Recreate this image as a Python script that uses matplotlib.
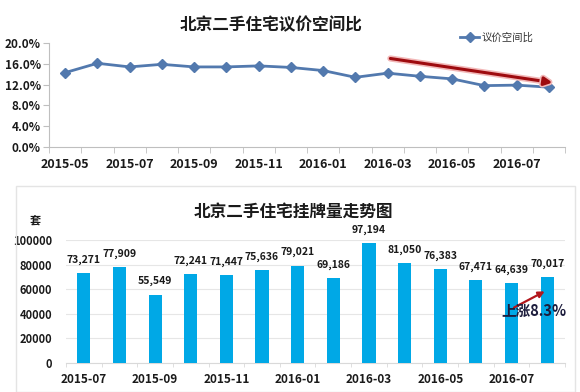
import numpy as np
import matplotlib.pyplot as plt
from matplotlib.patches import Rectangle
import matplotlib.patheffects as pe

plt.rcParams['font.family'] = ['Noto Sans CJK SC', 'DejaVu Sans']

# 议价空间比 (%)
months_top = ['2015-05', '2015-06', '2015-07', '2015-08', '2015-09', '2015-10',
              '2015-11', '2015-12', '2016-01', '2016-02', '2016-03', '2016-04',
              '2016-05', '2016-06', '2016-07', '2016-08']
ratio = [14.3, 16.1, 15.4, 15.9, 15.4, 15.4, 15.6, 15.3, 14.7, 13.4, 14.2,
         13.6, 13.1, 11.8, 11.9, 11.5]

# 挂牌量 (套)
months_bar = ['2015-07', '2015-08', '2015-09', '2015-10', '2015-11', '2015-12',
              '2016-01', '2016-02', '2016-03', '2016-04', '2016-05', '2016-06',
              '2016-07', '2016-08']
listings = [73271, 77909, 55549, 72241, 71447, 75636, 79021, 69186, 97194,
            81050, 76383, 67471, 64639, 70017]

W, H = 580, 392
fig = plt.figure(figsize=(W / 100, H / 100), dpi=100)
fig.patch.set_facecolor('white')

def box(l, t, r, b):
    return [l / W, 1 - b / H, (r - l) / W, (b - t) / H]

txt = '#1a1a1a'
axc = '#bfbfbf'

# ---------- top: line chart ----------
ax1 = fig.add_axes(box(49, 43, 565, 147))
x1 = np.arange(len(months_top))
line, = ax1.plot(x1, ratio, color='#5279ae', lw=2, marker='D', ms=5,
                 label='议价空间比', zorder=3)
ax1.set_xlim(-0.5, len(months_top) - 0.5)
ax1.set_ylim(0, 20)
ax1.set_yticks(np.arange(0, 20.1, 4))
ax1.set_yticklabels([f'{v:.1f}%' for v in np.arange(0, 20.1, 4)],
                    fontsize=8.5, fontweight='bold', color=txt)
ax1.set_xticks(x1[::2])
ax1.set_xticklabels(months_top[::2], fontsize=9, fontweight='bold', color=txt)
ax1.set_xticks(np.arange(-0.5, len(months_top), 1), minor=True)
ax1.tick_params(axis='x', which='major', length=0, pad=8)
ax1.tick_params(axis='x', which='minor', length=4, color=axc)
ax1.tick_params(axis='y', length=4, color=axc, pad=2)
for s in ['top', 'right']:
    ax1.spines[s].set_visible(False)
for s in ['left', 'bottom']:
    ax1.spines[s].set_color(axc)
ax1.set_facecolor('none')

fig.text(271 / W, 1 - 25 / H, '北京二手住宅议价空间比', ha='center', va='center',
         fontsize=12, fontweight='bold', color=txt)
fig.legend(handles=[line], loc='center left', bbox_to_anchor=(455 / W, 1 - 38 / H),
           frameon=False, fontsize=7.5, handlelength=1.8, handletextpad=0.2,
           borderpad=0, labelcolor='#333333')

# red trend arrow
ax1.annotate('', xy=(15.2, 12.3), xytext=(10.0, 17.1),
             arrowprops=dict(arrowstyle='-|>', color='#9e0b0f', lw=2.2,
                             mutation_scale=12,
                             path_effects=[pe.withStroke(linewidth=4.5, foreground='#f2b8b8')]),
             zorder=4)

# ---------- bottom: bar chart ----------
fig.patches.append(Rectangle((16 / W, 0), (575 - 16) / W, 1 - 186 / H,
                             transform=fig.transFigure, fill=False,
                             edgecolor='#e4e4e4', lw=1))

ax2 = fig.add_axes(box(66, 240, 565, 363))
x2 = np.arange(len(months_bar))
bars = ax2.bar(x2, listings, width=0.37, color='#00a8e6', zorder=3)
ax2.set_xlim(-0.5, len(months_bar) - 0.5)
ax2.set_ylim(0, 100000)
ax2.set_yticks(np.arange(0, 100001, 20000))
ax2.set_yticklabels([str(v) for v in range(0, 100001, 20000)],
                    fontsize=8, fontweight='bold', color=txt)
ax2.yaxis.grid(True, color='#e6e6e6', lw=0.8, zorder=0)
ax2.set_xticks(x2[::2])
ax2.set_xticklabels(months_bar[::2], fontsize=8.5, fontweight='bold', color=txt)
ax2.set_xticks(np.arange(-0.5, len(months_bar), 1), minor=True)
ax2.tick_params(axis='x', which='major', length=0, pad=7)
ax2.tick_params(axis='x', which='minor', length=3, color='#d9d9d9')
ax2.tick_params(axis='y', length=0, pad=10)
for s in ['top', 'right', 'left']:
    ax2.spines[s].set_visible(False)
ax2.spines['bottom'].set_color('#d9d9d9')
ax2.set_facecolor('none')

for xi, v in zip(x2, listings):
    ax2.annotate(f'{v:,}', (xi, v), xytext=(0, 6), textcoords='offset points',
                 ha='center', va='bottom', fontsize=7.5, fontweight='bold',
                 color=txt)

fig.text(293 / W, 1 - 212 / H, '北京二手住宅挂牌量走势图', ha='center', va='center',
         fontsize=12, fontweight='bold', color=txt)
fig.text(35 / W, 1 - 220 / H, '套', ha='center', va='center',
         fontsize=8, fontweight='bold', color=txt)

ax2.annotate('', xy=(13.0, 59300), xytext=(12.0, 44000),
             arrowprops=dict(arrowstyle='-|>', color='#b3161c', lw=1.6,
                             mutation_scale=9), zorder=5)
ax2.text(12.64, 42300, '上涨8.3%', ha='center', va='center', fontsize=10.5,
         fontweight='bold', color='#1c1c3c', zorder=6)

fig.savefig('out.png', dpi=100)
